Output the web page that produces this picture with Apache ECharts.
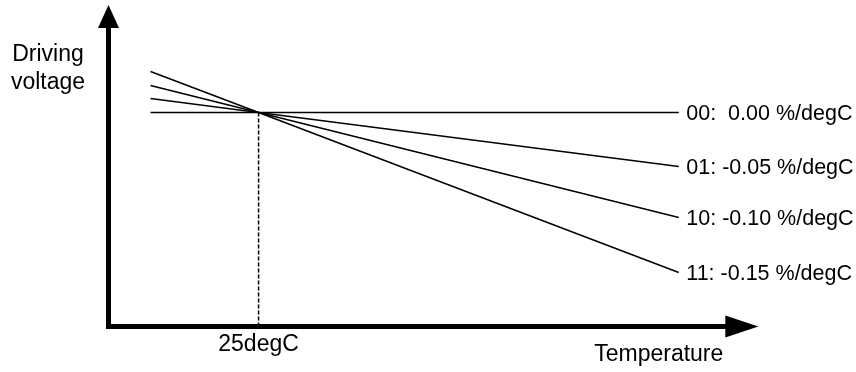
<!DOCTYPE html>
<html>
<head>
<meta charset="utf-8">
<script src="https://cdn.jsdelivr.net/npm/echarts@6/dist/echarts.min.js"></script>
<style>
html,body{margin:0;padding:0;background:#fff;}
#chart{width:856px;height:372px;}
</style>
</head>
<body>
<div id="chart"></div>
<script>
// Data (schematic, arbitrary units)
const seriesNames = ['00:  0.00 %/degC', '01: -0.05 %/degC', '10: -0.10 %/degC', '11: -0.15 %/degC'];
const tempPoints = [7, 25, 95];          // start, reference (25degC), end
const v00 = [214, 214, 214];
const v01 = [228, 214, 160];
const v10 = [241, 214, 109];
const v11 = [255, 214, 54];
const refTemp = 25;
const refVoltage = 214;
const xTickLabel = '25degC';
const xName = 'Temperature';
const yName = 'Driving\nvoltage';

const FONT = '"Liberation Sans", Arial, sans-serif';
const allValues = [v00, v01, v10, v11];

const lineSeries = seriesNames.map((name, i) => ({
  type: 'line',
  name: name,
  data: tempPoints.map((t, j) => [t, allValues[i][j]]),
  symbol: 'none',
  lineStyle: { color: '#000', width: 1.5 },
  endLabel: {
    show: true,
    formatter: '{a}',
    distance: 7.5,
    offset: [0, 2],
    color: '#000',
    fontSize: 21.5,
    fontFamily: FONT
  },
  silent: true
}));

lineSeries.push({
  type: 'line',
  name: 'ref',
  data: [[refTemp, 0], [refTemp, refVoltage]],
  symbol: 'none',
  lineStyle: { color: '#000', width: 1.5, type: [4, 2] },
  silent: true
});

const chart = echarts.init(document.getElementById('chart'));
chart.setOption({
  animation: false,
  backgroundColor: '#fff',
  grid: { left: 108.5, top: 16.5, right: 114.2, bottom: 45.5, containLabel: false },
  xAxis: {
    type: 'value',
    min: 0,
    max: 105.5,
    interval: 25,
    axisLine: {
      show: true,
      symbol: ['none', 'triangle'],
      symbolSize: [22, 33],
      lineStyle: { color: '#000', width: 5, cap: 'square' }
    },
    axisTick: { show: false },
    splitLine: { show: false },
    axisLabel: {
      margin: 7,
      color: '#000',
      fontSize: 23,
      fontFamily: FONT,
      showMaxLabel: false,
      formatter: v => (v === refTemp ? xTickLabel : '')
    },
    name: xName,
    nameLocation: 'end',
    nameGap: -18.5,
    nameTextStyle: {
      color: '#000', fontSize: 23, fontFamily: FONT,
      align: 'right', verticalAlign: 'top', padding: [17, 0, 0, 0]
    }
  },
  yAxis: {
    type: 'value',
    min: 0,
    max: 310,
    axisLine: {
      show: true,
      symbol: ['none', 'triangle'],
      symbolSize: [21, 23],
      lineStyle: { color: '#000', width: 5, cap: 'square' }
    },
    axisTick: { show: false },
    splitLine: { show: false },
    axisLabel: { show: false },
    name: yName,
    nameLocation: 'end',
    nameGap: -52.5,
    nameTextStyle: {
      color: '#000', fontSize: 23, fontFamily: FONT, lineHeight: 28,
      align: 'center', verticalAlign: 'middle', padding: [0, 121, 0, 0]
    }
  },
  series: lineSeries
});
</script>
</body>
</html>
